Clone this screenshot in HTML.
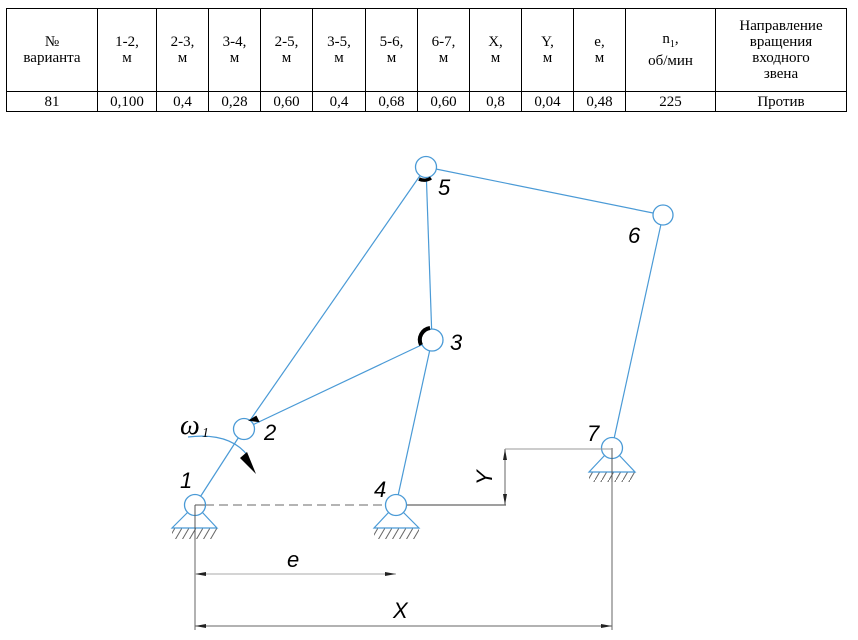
<!DOCTYPE html>
<html><head><meta charset="utf-8"><style>
body{margin:0;width:858px;height:640px;background:#fff;overflow:hidden;position:relative}
table{position:absolute;left:6px;top:8px;border-collapse:collapse;font-family:"Liberation Serif",serif;font-size:15px;color:#000}
td{border:1px solid #000;text-align:center;padding:0;line-height:16px}
tr.h td{height:82px}
tr.v td{height:19px;font-size:15px}
svg{position:absolute;left:0;top:0}
.lbl{font-family:"Liberation Sans",sans-serif;font-style:italic;font-size:22px;fill:#000}
</style></head><body>
<table>
<tr class="h"><td style="width:90px">№<br>варианта</td><td style="width:58px">1-2,<br>м</td><td style="width:51px">2-3,<br>м</td><td style="width:51px">3-4,<br>м</td><td style="width:51px">2-5,<br>м</td><td style="width:52px">3-5,<br>м</td><td style="width:51px">5-6,<br>м</td><td style="width:51px">6-7,<br>м</td><td style="width:51px">X,<br>м</td><td style="width:51px">Y,<br>м</td><td style="width:51px">e,<br>м</td><td style="width:89px">n<sub style="font-size:10px">1</sub>,<br>об/мин</td><td style="width:130px">Направление<br>вращения<br>входного<br>звена</td></tr>
<tr class="v"><td>81</td><td>0,100</td><td>0,4</td><td>0,28</td><td>0,60</td><td>0,4</td><td>0,68</td><td>0,60</td><td>0,8</td><td>0,04</td><td>0,48</td><td>225</td><td>Против</td></tr>
</table>
<svg width="858" height="640" viewBox="0 0 858 640">
<defs>
<pattern id="h" width="7" height="12" patternUnits="userSpaceOnUse"><line x1="0" y1="12" x2="7" y2="0" stroke="#666" stroke-width="1"/></pattern>
</defs>
<g stroke="#666" stroke-width="1.2" fill="none">
<line x1="205" y1="505" x2="386" y2="505" stroke-dasharray="9,5" stroke="#888"/>
<line x1="406" y1="505" x2="506" y2="505"/>
<line x1="505" y1="449" x2="505" y2="505" stroke-width="1"/>
<line x1="505" y1="449" x2="612" y2="449" stroke="#999" stroke-width="1"/>
<line x1="195" y1="505" x2="195" y2="630" stroke-width="1"/>
<line x1="612" y1="449" x2="612" y2="630" stroke-width="1"/>
<line x1="195" y1="574" x2="396" y2="574" stroke="#aaa" stroke-width="1"/>
<line x1="195" y1="626" x2="612" y2="626" stroke-width="1"/>
</g>
<g fill="#222">
<polygon points="195,574 206,572 206,576"/><polygon points="396,574 385,572 385,576"/>
<polygon points="195,626 206,624 206,628"/><polygon points="612,626 601,624 601,628"/>
<polygon points="505,449 503,460 507,460"/><polygon points="505,505 503,494 507,494"/>
</g>
<rect x="172" y="528" width="45" height="11" fill="url(#h)"/>
<rect x="374" y="528" width="45" height="11" fill="url(#h)"/>
<rect x="589" y="472" width="46" height="10" fill="url(#h)"/>
<g stroke="#4a9ad6" stroke-width="1.2" fill="none">
<line x1="195" y1="505" x2="244" y2="429"/>
<line x1="244" y1="429" x2="426" y2="167"/>
<line x1="244" y1="429" x2="432" y2="340"/>
<line x1="426" y1="167" x2="432" y2="340"/>
<line x1="432" y1="340" x2="396" y2="505"/>
<line x1="426" y1="167" x2="663" y2="215"/>
<line x1="663" y1="215" x2="612" y2="448"/>
<polyline points="188,512 172,528 217,528 202,512"/>
<polyline points="389,512 374,528 419,528 403,512"/>
<polyline points="605,455 589,472 635,472 619,455"/>
</g>
<g stroke="#4a9ad6" stroke-width="1.3" fill="#fff">
<circle cx="195" cy="505" r="10.5"/>
<circle cx="244" cy="429" r="10.5"/>
<circle cx="432" cy="340" r="11"/>
<circle cx="396" cy="505" r="10.5"/>
<circle cx="426" cy="167" r="10.5"/>
<circle cx="663" cy="215" r="10"/>
<circle cx="612" cy="448" r="10.5"/>
</g>
<line x1="195" y1="505" x2="195" y2="540" stroke="#555" stroke-width="1"/>
<line x1="195" y1="505" x2="205" y2="505" stroke="#555" stroke-width="1"/>
<line x1="612" y1="448" x2="612" y2="482" stroke="#555" stroke-width="1"/>
<line x1="600" y1="449" x2="612" y2="449" stroke="#999" stroke-width="1"/>
<path d="M430,328 A12,12 0 0 0 421,345" stroke="#000" stroke-width="4" fill="none"/>
<path d="M419,179 A12,12 0 0 0 431,178" stroke="#000" stroke-width="3.5" fill="none"/>
<path d="M251,420 L256,417 L258,421 Z" fill="#000" stroke="#000" stroke-width="2"/>
<path d="M188,437 Q230,432 248,456" stroke="#4a9ad6" stroke-width="1.2" fill="none"/>
<polygon points="240,458 256,474 247,452" fill="#000"/>
<text x="180" y="434" font-family="Liberation Serif,serif" font-style="italic" font-size="28" fill="#000">ω</text>
<text x="202" y="437" font-family="Liberation Serif,serif" font-style="italic" font-size="14" fill="#000">1</text>
<text class="lbl" x="180" y="488">1</text>
<text class="lbl" x="264" y="440">2</text>
<text class="lbl" x="450" y="350">3</text>
<text class="lbl" x="374" y="497">4</text>
<text class="lbl" x="438" y="195">5</text>
<text class="lbl" x="628" y="243">6</text>
<text class="lbl" x="587" y="441">7</text>
<text class="lbl" x="287" y="567">e</text>
<text class="lbl" x="393" y="618" font-size="24">X</text>
<text class="lbl" transform="translate(492,477) rotate(-90)" x="-8" y="0">Y</text>
</svg>
</body></html>
